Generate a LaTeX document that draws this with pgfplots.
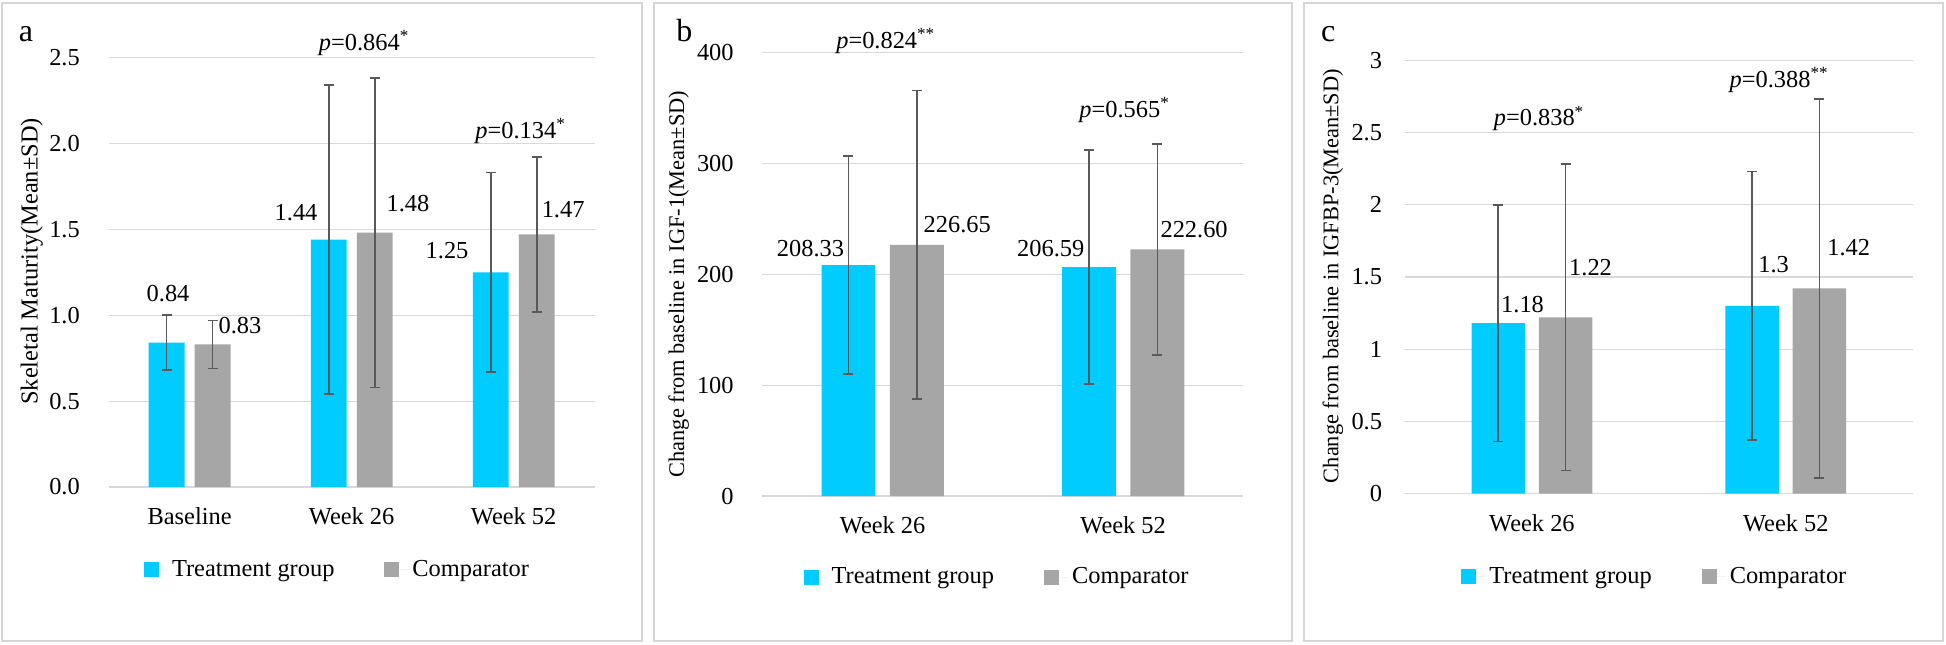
\documentclass[border=0pt]{standalone}
\usepackage{fontspec}
\setmainfont{Liberation Serif}
\usepackage{pgfplots}
\pgfplotsset{compat=1.18}
\usepackage{pgfplotstable}
\definecolor{tcyan}{HTML}{00CCFF}
\definecolor{cgray}{HTML}{A6A6A6}
\definecolor{egray}{HTML}{595959}
\definecolor{ggray}{HTML}{D9D9D9}
\definecolor{bgray}{HTML}{D6D6D6}

% Panel a: Skeletal maturity
\pgfplotstableread{
x y e
0 0.84 0.16
1 1.44 0.90
2 1.25 0.58
}\aT
\pgfplotstableread{
x y e
0 0.83 0.14
1 1.48 0.90
2 1.47 0.45
}\aC
% Panel b: IGF-1
\pgfplotstableread{
x y e
0 208.33 98.3
1 206.59 105.7
}\bT
\pgfplotstableread{
x y e
0 226.65 139.2
1 222.60 95.1
}\bC
% Panel c: IGFBP-3
\pgfplotstableread{
x y e
0 1.18 0.82
1 1.30 0.93
}\cT
\pgfplotstableread{
x y e
0 1.22 1.06
1 1.42 1.31
}\cC

\newcommand{\fs}{\fontsize{12.2}{14}\selectfont}
\pgfplotsset{
  panel/.style={
    scale only axis, anchor=south west, ybar, clip=false,
    enlargelimits=false,
    axis line style={draw=none},
    major tick length=0pt,
    ymajorgrids, grid style={draw=ggray, line width=0.6pt},
    tick label style={font=\fs},
    yticklabel style={anchor=east, inner sep=0pt, xshift=-14.2pt},
    xticklabel style={anchor=center, inner sep=0pt},
    legend style={draw=none, fill=none, legend columns=2, font=\fs,
      /tikz/every even column/.append style={column sep=23pt}},
  },
  sq/.style={legend image code/.code={\fill[##1] (0pt,-3.75pt) rectangle (7.5pt,3.75pt); \path (7.5pt,0pt) -- (12pt,0pt);}},
  eb/.style={error bars/.cd, y dir=both, y explicit, error mark=|,
    error bar style={draw=egray, line width=0.85pt},
    error mark options={draw=egray, line width=0.85pt, mark size=2.5pt}},
}

\begin{document}
\begin{tikzpicture}
\useasboundingbox (0,0) rectangle (973pt,322pt);
\fill[white] (0,0) rectangle (973pt,322pt);
\draw[bgray, line width=0.8pt] (1pt,1.5pt) rectangle (321pt,320.5pt);
\draw[bgray, line width=0.8pt] (327pt,1.5pt) rectangle (646pt,320.5pt);
\draw[bgray, line width=0.8pt] (652pt,1.5pt) rectangle (971.5pt,320.5pt);
\node[anchor=base west, font=\fontsize{16}{18}\selectfont, inner sep=0pt] at (9.2pt,301.2pt) {a};
\node[anchor=base west, font=\fontsize{16}{18}\selectfont, inner sep=0pt] at (338pt,301.2pt) {b};
\node[anchor=base west, font=\fontsize{16}{18}\selectfont, inner sep=0pt] at (660.3pt,301.2pt) {c};

% ---------------- Panel a
\begin{axis}[panel,
  at={(54.3pt,78.5pt)}, width=243.05pt, height=214.75pt,
  xmin=-0.5, xmax=2.5, ymin=0, ymax=2.5,
  bar width=17.9pt,
  xtick={0,1,2}, xticklabels={Baseline,Week 26,Week 52},
  xticklabel style={yshift=-14.8pt},
  ytick={0,0.5,1,1.5,2,2.5}, yticklabels={0.0,0.5,1.0,1.5,2.0,2.5},
  ylabel={Skeletal Maturity(Mean±SD)},
  ylabel style={at={(axis description cs:-0.158,0.525)}, anchor=center, font=\fs},
  legend style={at={(axis description cs:0.473,-0.193)}, anchor=center},
]
\addplot[fill=tcyan, draw=none, bar shift=-11.5pt, sq, eb] table[x=x, y=y, y error=e] {\aT};
\addlegendentry{Treatment group}
\addplot[fill=cgray, draw=none, bar shift=11.5pt, sq, eb] table[x=x, y=y, y error=e] {\aC};
\addlegendentry{Comparator}
\node[font=\fs] at (axis cs:-0.133,1.126) {0.84};
\node[font=\fs] at (axis cs:0.311,0.940) {0.83};
\node[font=\fs] at (axis cs:0.657,1.597) {1.44};
\node[font=\fs] at (axis cs:1.348,1.647) {1.48};
\node[font=\fs] at (axis cs:1.589,1.377) {1.25};
\node[font=\fs] at (axis cs:2.305,1.616) {1.47};
\node[font=\fs] at (axis cs:1.077,2.584) {\textit{p}=0.864\textsuperscript{*}};
\node[font=\fs] at (axis cs:2.043,2.074) {\textit{p}=0.134\textsuperscript{*}};
\end{axis}

% ---------------- Panel b
\begin{axis}[panel,
  at={(381.2pt,74pt)}, width=240.5pt, height=221.7pt,
  xmin=-0.5, xmax=1.5, ymin=0, ymax=400,
  bar width=26.9pt,
  xtick={0,1}, xticklabels={Week 26,Week 52},
  xticklabel style={yshift=-14.4pt},
  ytick={0,100,200,300,400}, yticklabels={0,100,200,300,400},
  ylabel={Change from baseline in IGF-1(Mean±SD)},
  ylabel style={at={(axis description cs:-0.174,0.478)}, anchor=center, font=\fontsize{11.2}{13}\selectfont},
  legend style={at={(axis description cs:0.49,-0.183)}, anchor=center},
]
\addplot[fill=tcyan, draw=none, bar shift=-17.1pt, sq, eb] table[x=x, y=y, y error=e] {\bT};
\addlegendentry{Treatment group}
\addplot[fill=cgray, draw=none, bar shift=17.1pt, sq, eb] table[x=x, y=y, y error=e] {\bC};
\addlegendentry{Comparator}
\node[font=\fs] at (axis cs:-0.30,223.3) {208.33};
\node[font=\fs] at (axis cs:0.31,244.5) {226.65};
\node[font=\fs] at (axis cs:0.699,223.3) {206.59};
\node[font=\fs] at (axis cs:1.295,240.7) {222.60};
\node[font=\fs] at (axis cs:0.013,410.5) {\textit{p}=0.824\textsuperscript{**}};
\node[font=\fs] at (axis cs:1.006,348.2) {\textit{p}=0.565\textsuperscript{*}};
\end{axis}

% ---------------- Panel c
\begin{axis}[panel,
  at={(702.5pt,75.2pt)}, width=253.85pt, height=216.7pt,
  xmin=-0.5, xmax=1.5, ymin=0, ymax=3,
  bar width=26.8pt,
  xtick={0,1}, xticklabels={Week 26,Week 52},
  xticklabel style={yshift=-15pt},
  yticklabel style={xshift=2.9pt},
  ytick={0,0.5,1,1.5,2,2.5,3}, yticklabels={0,0.5,1,1.5,2,2.5,3},
  ylabel={Change from baseline in IGFBP-3(Mean±SD)},
  ylabel style={at={(axis description cs:-0.142,0.502)}, anchor=center, font=\fontsize{11.2}{13}\selectfont},
  legend style={at={(axis description cs:0.494,-0.192)}, anchor=center},
]
\addplot[fill=tcyan, draw=none, bar shift=-16.8pt, sq, eb] table[x=x, y=y, y error=e] {\cT};
\addlegendentry{Treatment group}
\addplot[fill=cgray, draw=none, bar shift=16.8pt, sq, eb] table[x=x, y=y, y error=e] {\cC};
\addlegendentry{Comparator}
\node[font=\fs] at (axis cs:-0.037,1.307) {1.18};
\node[font=\fs] at (axis cs:0.231,1.563) {1.22};
\node[font=\fs] at (axis cs:0.952,1.583) {1.3};
\node[font=\fs] at (axis cs:1.248,1.702) {1.42};
\node[font=\fs] at (axis cs:0.028,2.597) {\textit{p}=0.838\textsuperscript{*}};
\node[font=\fs] at (axis cs:0.974,2.862) {\textit{p}=0.388\textsuperscript{**}};
\end{axis}
\end{tikzpicture}
\end{document}
